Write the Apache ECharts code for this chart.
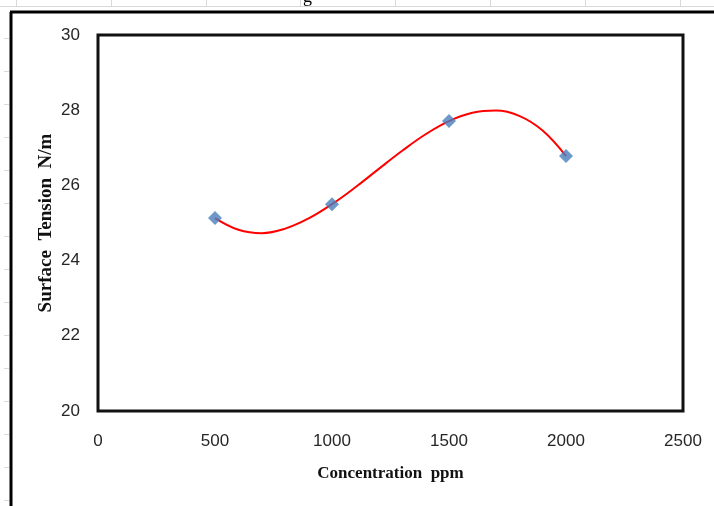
<!DOCTYPE html>
<html>
<head>
<meta charset="utf-8">
<script src="https://cdn.jsdelivr.net/npm/echarts@6/dist/echarts.min.js"></script>
<style>html,body{margin:0;padding:0;background:#fff}#c{width:714px;height:506px}</style>
</head>
<body>
<div id="c"></div>
<script>
// Measured points
const concentration = [500, 1000, 1500, 2000];
const surfaceTension = [25.13, 25.5, 27.71, 26.78];
// Trendline
const trendX = [500, 600, 700, 800, 900, 1000, 1100, 1200, 1300, 1400, 1500, 1600, 1700, 1800, 1900, 2000];
const trendY = [25.13, 24.82, 24.73, 24.85, 25.12, 25.5, 25.95, 26.44, 26.92, 27.36, 27.71, 27.93, 27.99, 27.85, 27.46, 26.78];
const xTicks = [0, 500, 1000, 1500, 2000, 2500];
const yTicks = [20, 22, 24, 26, 28, 30];

const chart = echarts.init(document.getElementById('c'));
const pts = concentration.map((x, i) => [x, surfaceTension[i]]);
const trend = trendX.map((x, i) => [x, trendY[i]]);

const gridEls = [];
// faint spreadsheet cell lines
gridEls.push({type:'line', shape:{x1:0,y1:6.5,x2:714,y2:6.5}, style:{stroke:'#d9d9d9', lineWidth:1}, silent:true});
[16,111,206,300,395,490,585,680].forEach(x => gridEls.push({type:'line', shape:{x1:x+0.5,y1:0,x2:x+0.5,y2:7}, style:{stroke:'#d9d9d9', lineWidth:1}, silent:true}));
for (let y = 38; y < 506; y += 33) gridEls.push({type:'line', shape:{x1:4,y1:y+0.5,x2:9,y2:y+0.5}, style:{stroke:'#d9d9d9', lineWidth:1}, silent:true});
// outer chart border
gridEls.push({type:'line', shape:{x1:11,y1:12,x2:11,y2:506}, style:{stroke:'#000', lineWidth:3}, silent:true});
gridEls.push({type:'line', shape:{x1:10,y1:12,x2:714,y2:12}, style:{stroke:'#000', lineWidth:3}, silent:true});
// cut-off title fragment
gridEls.push({type:'text', x:303, y:-12, style:{text:'g', font:'18px "Liberation Serif"', fill:'#000'}, silent:true});

chart.setOption({
  animation: false,
  backgroundColor: '#fff',
  grid: {left: 98, right: 31, top: 35, bottom: 95, show: true, borderColor: '#111', borderWidth: 3, backgroundColor: 'transparent'},
  xAxis: {
    type: 'value', min: xTicks[0], max: xTicks[xTicks.length-1], interval: 500,
    name: 'Concentration  ppm', nameLocation: 'middle', nameGap: 54, nameMoveOverlap: false,
    nameTextStyle: {fontFamily: 'Liberation Serif', fontWeight: 'bold', fontSize: 17, color: '#111'},
    axisLine: {show: false}, axisTick: {show: false}, splitLine: {show: false},
    axisLabel: {fontFamily: 'Liberation Sans', fontSize: 17, color: '#262626', margin: 22, formatter: v => String(v)}
  },
  yAxis: {
    type: 'value', min: yTicks[0], max: yTicks[yTicks.length-1], interval: 2,
    name: 'Surface  Tension  N/m', nameLocation: 'middle', nameGap: 42, nameMoveOverlap: false,
    nameTextStyle: {fontFamily: 'Liberation Serif', fontWeight: 'bold', fontSize: 19, color: '#111'},
    axisLine: {show: false}, axisTick: {show: false}, splitLine: {show: false},
    axisLabel: {fontFamily: 'Liberation Sans', fontSize: 17, color: '#262626', margin: 18, formatter: v => String(v)}
  },
  series: [
    {type: 'line', data: trend, smooth: 0.4, symbol: 'none', lineStyle: {color: '#ff0000', width: 2}, z: 2},
    {type: 'scatter', data: pts, symbol: 'diamond', symbolSize: 14, itemStyle: {color: '#4a7ebb'}, z: 3}
  ],
  graphic: gridEls
});
</script>
</body>
</html>
